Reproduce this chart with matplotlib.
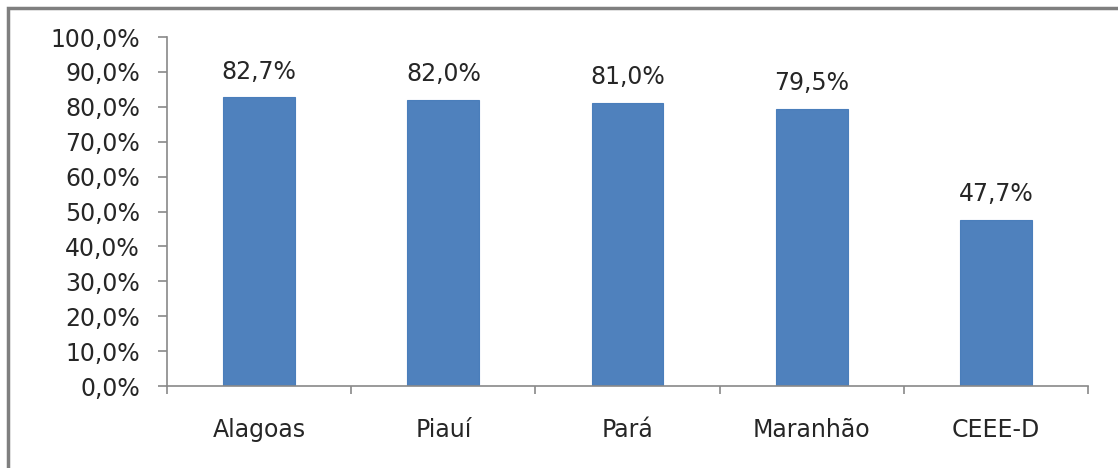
import matplotlib.pyplot as plt
from matplotlib.patches import Rectangle
from matplotlib.ticker import FuncFormatter

categories = ["Alagoas", "Piauí", "Pará", "Maranhão", "CEEE-D"]
values = [82.7, 82.0, 81.0, 79.5, 47.7]
yticks = [0, 10, 20, 30, 40, 50, 60, 70, 80, 90, 100]


def pct(v, pos=None):
    return f"{v:.1f}%".replace(".", ",")


plt.rcParams['font.family'] = ['DejaVu Sans']

fig = plt.figure(figsize=(11.18, 4.68), dpi=100)
ax = fig.add_axes([0.1494, 0.1752, 0.8238, 0.7457])

x = range(len(categories))
ax.bar(x, values, width=0.39, color='#4F81BD', edgecolor='#4A7EBB', linewidth=0.8)
for i, v in zip(x, values):
    ax.text(i, v + 5.4, pct(v), ha='center', va='baseline', fontsize=17, color='#262626')

ax.set_xlim(-0.5, len(categories) - 0.5)
ax.set_ylim(0, 100)
ax.set_yticks(yticks)
ax.yaxis.set_major_formatter(FuncFormatter(pct))
ax.set_xticks([i - 0.5 for i in range(len(categories) + 1)])
ax.set_xticklabels([])
ax.set_xticks(list(x), minor=True)
ax.set_xticklabels(categories, minor=True)
ax.tick_params(axis='x', which='minor', length=0, pad=23, labelsize=17, labelcolor='#262626')
ax.tick_params(axis='x', which='major', length=6, color='#898989', width=1.2)
ax.tick_params(axis='y', length=6.5, color='#898989', width=1.2, labelsize=17,
               labelcolor='#262626', pad=13)

for s in ['top', 'right']:
    ax.spines[s].set_visible(False)
for s in ['left', 'bottom']:
    ax.spines[s].set_color('#898989')
    ax.spines[s].set_linewidth(1.2)

# outer chart frame (partially cropped in the original)
fig.patches.append(Rectangle((8 / 1118, -0.1), 1.2, 1 - 8 / 468 + 0.1,
                             transform=fig.transFigure, fill=False,
                             edgecolor='#7F7F7F', linewidth=2.5))

fig.savefig('out.png', dpi=100)
